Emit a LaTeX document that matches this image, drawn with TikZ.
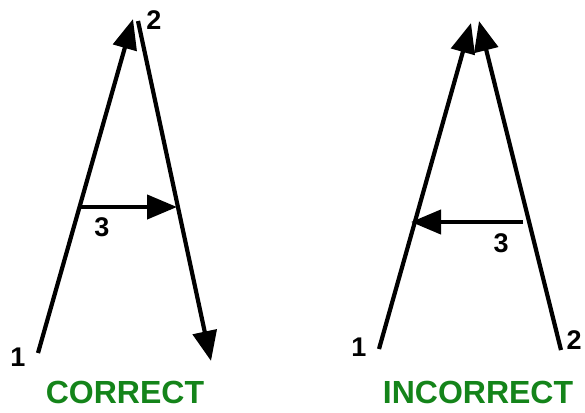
\documentclass[tikz,border=0pt]{standalone}
\usepackage{fontspec}
\setmainfont{Liberation Sans}
\usetikzlibrary{arrows.meta}
\definecolor{okgreen}{HTML}{14841A}
\begin{document}
\begin{tikzpicture}[x=1pt,y=-1pt,
  vec/.style={line width=4.2pt,-{Triangle[length=30pt,width=24pt]}},
  num/.style={font=\bfseries\fontsize{27}{27}\selectfont,inner sep=0pt},
  verdict/.style={font=\bfseries\fontsize{32}{32}\selectfont,text=okgreen,inner sep=0pt}]
\useasboundingbox (0,0) rectangle (585,412);
% left: correct
\coordinate (a1) at (38,353);
\coordinate (a2) at (133,19);
\coordinate (b1) at (138,21);
\coordinate (b2) at (211,361);
\coordinate (c1) at (80,207);
\coordinate (c2) at (177,207);
\draw[vec] (a1) -- (a2);
\draw[vec] (b1) -- (b2);
\draw[vec] (c1) -- (c2);
\node[num] (l1) at (18,357) {1};
\node[num] (l2) at (154,20) {2};
\node[num] (l3) at (102,227) {3};
\node[verdict] (t1) at (125,392.5) {CORRECT};
% right: incorrect
\coordinate (d1) at (379,349);
\coordinate (d2) at (471,23);
\coordinate (e1) at (561,350);
\coordinate (e2) at (479,21);
\coordinate (f1) at (523,222);
\coordinate (f2) at (411,222);
\draw[vec] (d1) -- (d2);
\draw[vec] (e1) -- (e2);
\draw[vec] (f1) -- (f2);
\node[num] (r1) at (359,347) {1};
\node[num] (r2) at (574,340) {2};
\node[num] (r3) at (501,243) {3};
\node[verdict] (t2) at (478,392.5) {INCORRECT};
\end{tikzpicture}
\end{document}
